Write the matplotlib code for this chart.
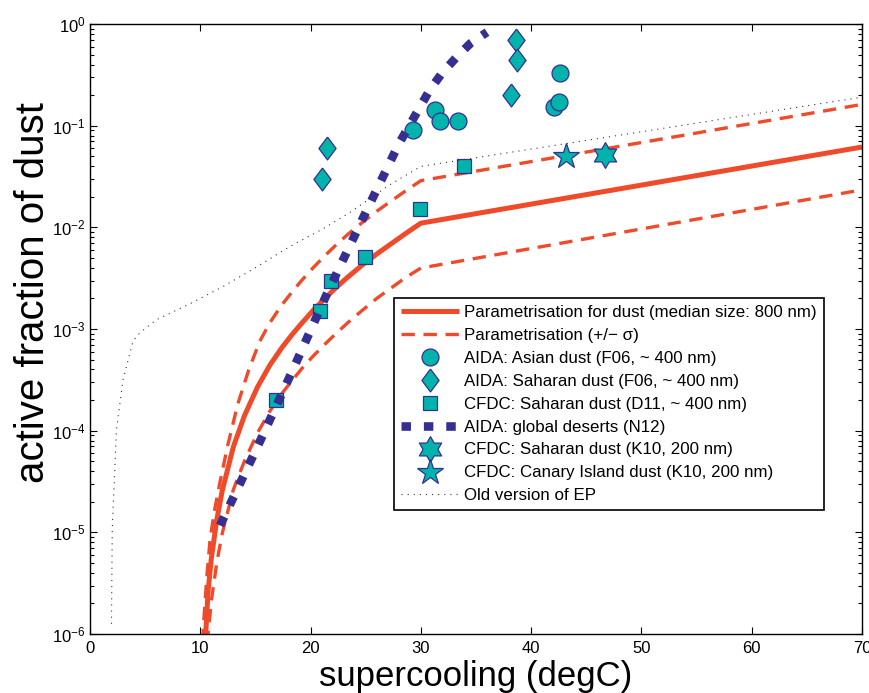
import matplotlib
matplotlib.use("Agg")

import matplotlib.pyplot as plt
from matplotlib import font_manager
from matplotlib.path import Path

# the reference is a little stretched vertically -> narrow font when we have it
try:
    font_manager.findfont("Liberation Sans Narrow", fallback_to_default=False)
    NARROW = True
except ValueError:
    NARROW = False

if NARROW:
    plt.rcParams["font.family"] = ["Liberation Sans Narrow", "Liberation Sans", "DejaVu Sans"]
    TICK_FS, XLAB_FS, LEG_FS = 14.5, 30, 15
    LEG_KW = dict(handlelength=2.74, handletextpad=0.3, labelspacing=0.21,
                  borderpad=0.35)
else:
    plt.rcParams["font.family"] = ["Liberation Sans", "DejaVu Sans"]
    TICK_FS, XLAB_FS, LEG_FS = 12, 25, 12.2
    LEG_KW = dict(handlelength=3.4, handletextpad=0.35, labelspacing=0.47,
                  borderpad=0.4)

RED = "#ef4a2a"
NAVY = "#352f92"
TEAL = "#00b4ac"

# ---- values (x: supercooling degC, y: active fraction)
param_x = [10.45, 10.7, 11.0, 11.5, 12.0, 13.0, 14.0, 15.2, 16.3, 17.4, 18.3,
           19.2, 20.2, 21.2, 22.3, 23.4, 24.7, 26.0, 28.6, 30.0, 70.0]
param_y = [8.13e-7, 2.54e-6, 5.50e-6, 1.33e-5, 2.59e-5, 6.93e-5, 1.40e-4,
           2.70e-4, 4.39e-4, 6.56e-4, 8.75e-4, 1.14e-3, 1.51e-3, 1.95e-3,
           2.55e-3, 3.26e-3, 4.27e-3, 5.47e-3, 8.67e-3, 1.10e-2, 6.17e-2]

upper_x = [10.2, 10.3, 10.6, 10.9, 11.3, 11.8, 12.5, 13.4, 14.4, 15.4, 16.3,
           17.4, 18.3, 19.2, 20.2, 21.2, 22.3, 23.4, 24.7, 26.0, 28.6, 30.0,
           70.0]
upper_y = [8.32e-7, 1.26e-6, 3.72e-6, 8.71e-6, 1.66e-5, 3.16e-5, 7.24e-5,
           1.82e-4, 3.98e-4, 7.59e-4, 1.15e-3, 1.73e-3, 2.30e-3, 3.01e-3,
           3.97e-3, 5.14e-3, 6.70e-3, 8.57e-3, 1.12e-2, 1.44e-2, 2.28e-2,
           2.88e-2, 1.62e-1]

lower_x = [10.65, 10.7, 11.0, 11.5, 12.0, 13.0, 14.0, 15.2, 16.3, 17.4, 18.3,
           19.2, 20.2, 21.2, 22.3, 23.4, 24.7, 26.0, 28.6, 30.0, 70.0]
lower_y = [7.94e-7, 9.66e-7, 2.09e-6, 5.05e-6, 9.84e-6, 2.63e-5, 5.01e-5,
           9.55e-5, 1.55e-4, 2.32e-4, 3.09e-4, 4.07e-4, 5.37e-4, 6.92e-4,
           9.02e-4, 1.16e-3, 1.53e-3, 2.00e-3, 3.20e-3, 3.98e-3, 2.34e-2]

old_ep_x = [1.95, 2.02, 2.4, 3.0, 3.9, 4.5, 6.0, 9.1, 12.1, 15.1, 18.1, 21.2,
            23.6, 27.2, 30.0, 70.0]
old_ep_y = [1.26e-6, 1.05e-5, 1.02e-4, 3.16e-4, 7.59e-4, 9.12e-4, 1.23e-3,
            1.78e-3, 2.63e-3, 4.07e-3, 6.46e-3, 9.77e-3, 1.41e-2, 2.63e-2,
            3.98e-2, 1.91e-1]

n12_x = [11.8, 15.26, 18.4, 21.5, 24.7, 28.0, 29.85, 30.8, 31.9, 33.2, 34.5,
         36.0]
n12_y = [1.17e-5, 7.24e-5, 3.98e-4, 2.24e-3, 1.2e-2, 6.61e-2, 1.48e-1,
         2.24e-1, 3.27e-1, 4.68e-1, 6.46e-1, 8.32e-1]

asian_x = [29.3, 31.3, 31.7, 33.4, 42.1, 42.5, 42.6]
asian_y = [0.091, 0.143, 0.112, 0.112, 0.152, 0.172, 0.33]

sahara_f06_x = [21.0, 21.5, 38.2, 38.6, 38.7]
sahara_f06_y = [0.030, 0.060, 0.20, 0.70, 0.44]

cfdc_d11_x = [16.86, 20.85, 21.85, 24.9, 29.9, 33.9]
cfdc_d11_y = [2.0e-4, 1.5e-3, 3.0e-3, 5.1e-3, 1.5e-2, 4.0e-2]

k10_sahara_x = [46.7]
k10_sahara_y = [0.051]
k10_canary_x = [43.15]
k10_canary_y = [0.050]

x_ticks = [0, 10, 20, 30, 40, 50, 60, 70]

# markers
diamond = [(0, 1), (0.75, 0), (0, -1), (-0.75, 0), (0, 1)]
hexagram = Path.unit_regular_star(6, innerCircle=0.577)

fig = plt.figure(figsize=(8.7, 6.93), dpi=100)
ax = fig.add_axes([0.1034, 0.0851, 0.8874, 0.8802])

ax.plot(param_x, param_y, color=RED, lw=3.6, solid_capstyle="butt",
        solid_joinstyle="round",
        label="Parametrisation for dust (median size: 800 nm)")
ax.plot(upper_x, upper_y, color=RED, lw=2.4, ls=(0, (4.0, 2.6)),
        label="Parametrisation (+/\u2212 \u03c3)")
ax.plot(lower_x, lower_y, color=RED, lw=2.4, ls=(0, (4.0, 2.6)))

mk = dict(ls="none", markerfacecolor=TEAL, markeredgecolor=NAVY,
          markeredgewidth=0.9)
ax.plot(asian_x, asian_y, marker="o", ms=12.2, **mk,
        label="AIDA: Asian dust (F06, ~ 400 nm)")
ax.plot(sahara_f06_x, sahara_f06_y, marker=diamond, ms=16.5, **mk,
        label="AIDA: Saharan dust (F06, ~ 400 nm)")
ax.plot(cfdc_d11_x, cfdc_d11_y, marker="s", ms=10, **mk,
        label="CFDC: Saharan dust (D11, ~ 400 nm)")
ax.plot(n12_x, n12_y, color=NAVY, lw=6.2, ls=(0, (1.1, 1.5)),
        dash_capstyle="butt", label="AIDA: global deserts (N12)")
ax.plot(k10_sahara_x, k10_sahara_y, marker=hexagram, ms=18.5, **mk,
        label="CFDC: Saharan dust (K10, 200 nm)")
ax.plot(k10_canary_x, k10_canary_y, marker="*", ms=19, **mk,
        label="CFDC: Canary Island dust (K10, 200 nm)")
ax.plot(old_ep_x, old_ep_y, color="#333333", lw=0.8, ls=(0, (1, 4.5)),
        label="Old version of EP")

ax.set_yscale("log")
ax.set_xlim(0, 70)
ax.set_ylim(1e-6, 1)
ax.set_xticks(x_ticks)
ax.tick_params(which="both", direction="in", top=True, right=True,
               labelsize=TICK_FS, width=0.8)
ax.tick_params(which="major", length=5)
ax.tick_params(which="minor", length=3)
ax.tick_params(axis="x", pad=5)
ax.tick_params(axis="y", pad=3)
for s in ax.spines.values():
    s.set_linewidth(1.0)

ax.set_xlabel("supercooling (degC)", fontsize=XLAB_FS, labelpad=3)
ax.set_ylabel("active fraction of dust", fontsize=29,
              family=["Liberation Sans", "DejaVu Sans"])
ax.yaxis.set_label_coords(-0.049, 0.56)

leg = ax.legend(loc="upper left", bbox_to_anchor=(0.394, 0.551),
                fontsize=LEG_FS, frameon=True, fancybox=False, framealpha=1,
                edgecolor="black", borderaxespad=0, **LEG_KW)
leg.get_frame().set_linewidth(1.2)

fig.savefig("out.png", dpi=100)
